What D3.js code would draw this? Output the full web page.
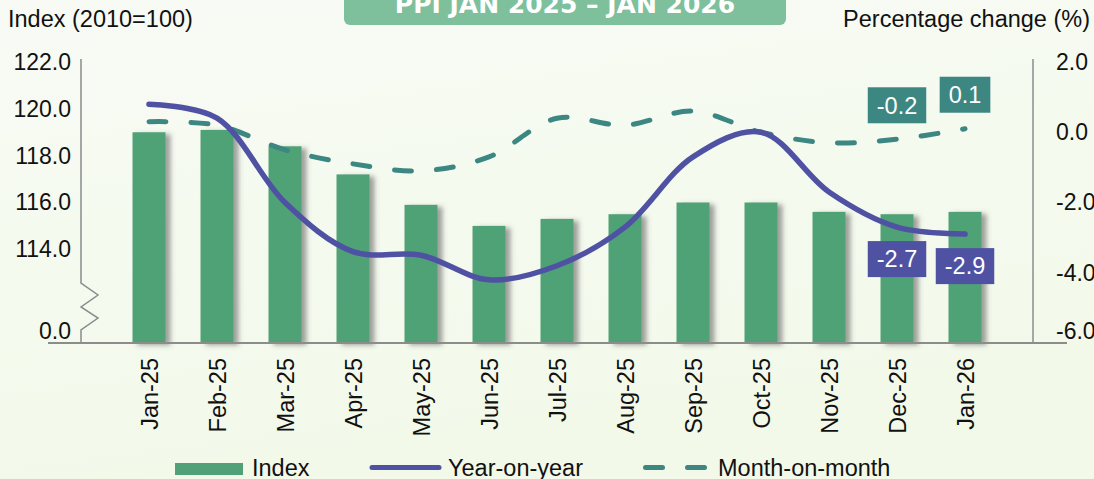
<!DOCTYPE html>
<html>
<head>
<meta charset="utf-8">
<script src="https://cdn.jsdelivr.net/npm/d3@7"></script>
<style>
  html, body { margin: 0; padding: 0; overflow: hidden; }
  svg { display: block; font-family: "Liberation Sans", Arial, sans-serif; }
</style>
</head>
<body>
<svg id="chart" width="1094" height="479"></svg>
<script>
// data
const months = ["Jan-25", "Feb-25", "Mar-25", "Apr-25", "May-25", "Jun-25", "Jul-25",
  "Aug-25", "Sep-25", "Oct-25", "Nov-25", "Dec-25", "Jan-26"];
const indexValues = [119.0, 119.1, 118.4, 117.2, 115.9, 115.0, 115.3, 115.5, 116.0, 116.0, 115.6, 115.5, 115.6];
const yoyValues = [0.8, 0.4, -2.0, -3.4, -3.5, -4.2, -3.8, -2.7, -0.7, 0.0, -1.7, -2.7, -2.9];
const momValues = [0.3, 0.2, -0.5, -0.9, -1.1, -0.7, 0.4, 0.2, 0.6, 0.0, -0.3, -0.2, 0.1];
const labelledMonths = ["Dec-25", "Jan-26"];

const indexTicks = [110, 114, 116, 118, 120, 122];
const indexTickLabels = ["0.0", "114.0", "116.0", "118.0", "120.0", "122.0"];
const pctTicks = [-6, -4, -2, 0, 2];

const title = "PPI JAN 2025 \u2013 JAN 2026";

let barColor = "#50a276";
let yoyColor = "#4f52a3";
let momColor = "#3d8783";
let axisColor = "#8c8c8c";
let fontSize = 23.5;
let tickFontSize = 23;

let svg = d3.select("#chart");
let plotLeft = 81, plotRight = 1033, plotTop = 62, plotBottom = 343;

// background
let defs = svg.append("defs");
let bg = defs.append("linearGradient").attr("id", "bg").attr("x1", 0).attr("y1", 0).attr("x2", 0.3).attr("y2", 1);
bg.append("stop").attr("offset", 0).attr("stop-color", "#f8fbf5");
bg.append("stop").attr("offset", 1).attr("stop-color", "#f2f9e9");
let shadow = defs.append("filter").attr("id", "shadow")
  .attr("x", -0.2).attr("y", -0.2).attr("width", 1.6).attr("height", 1.4);
shadow.append("feDropShadow").attr("dx", 5).attr("dy", 2).attr("stdDeviation", 2.5)
  .attr("flood-color", "#555").attr("flood-opacity", 0.55);

svg.append("rect").attr("width", 1094).attr("height", 479).attr("fill", "url(#bg)");

// scales
let x = d3.scalePoint().domain(months).range([plotLeft, plotRight]).padding(1);
let yIdx = d3.scaleLinear().domain([110, 122]).range([plotBottom, plotTop]);
let yPct = d3.scaleLinear().domain([-6, 2]).range([plotBottom, plotTop]);
let barW = x.step() * 0.485;

// bars
svg.append("g")
  .selectAll("rect")
  .data(indexValues)
  .enter().append("rect")
    .attr("x", (d, i) => x(months[i]) - barW / 2)
    .attr("y", d => yIdx(d))
    .attr("width", barW)
    .attr("height", d => yIdx(110) - yIdx(d))
    .attr("fill", barColor)
    .attr("filter", "url(#shadow)");

// x axis line
svg.append("line")
  .attr("x1", 48).attr("x2", 1067)
  .attr("y1", plotBottom).attr("y2", plotBottom)
  .attr("stroke", axisColor).attr("stroke-width", 2);

// left axis
let yAxisL = svg.append("g")
  .attr("transform", "translate(" + plotLeft + ",0)")
  .call(d3.axisLeft(yIdx).tickValues(indexTicks).tickSize(0).tickPadding(10)
    .tickFormat((d, i) => indexTickLabels[i]));
yAxisL.select(".domain").remove();
yAxisL.selectAll("text")
  .style("font-size", tickFontSize + "px").style("font-family", "Liberation Sans, Arial, sans-serif")
  .attr("fill", "#111")
  .attr("y", d => d == 110 ? -12 : 0);

// left axis line with break
let brk = [283, 295, 307, 318, 330];
let axisPath = d3.path();
axisPath.moveTo(plotLeft, plotTop - 3);
axisPath.lineTo(plotLeft, brk[0]);
axisPath.lineTo(plotLeft + 17, brk[1]);
axisPath.lineTo(plotLeft, brk[2]);
axisPath.lineTo(plotLeft + 17, brk[3]);
axisPath.lineTo(plotLeft, brk[4]);
axisPath.lineTo(plotLeft, plotBottom);
svg.append("path").attr("d", axisPath.toString())
  .attr("fill", "none").attr("stroke", axisColor).attr("stroke-width", 1.5);

// right axis (labels run off the right edge, as in the original)
let yAxisR = svg.append("g")
  .attr("transform", "translate(" + plotRight + ",0)")
  .call(d3.axisRight(yPct).tickValues(pctTicks).tickSize(0).tickPadding(23)
    .tickFormat(d => d.toFixed(1)));
yAxisR.select(".domain").remove();
yAxisR.selectAll("text")
  .style("font-size", tickFontSize + "px").style("font-family", "Liberation Sans, Arial, sans-serif")
  .attr("fill", "#111")
  .attr("y", d => d == -6 ? -12 : 0);
svg.append("line")
  .attr("x1", plotRight).attr("x2", plotRight)
  .attr("y1", plotTop - 3).attr("y2", plotBottom)
  .attr("stroke", axisColor).attr("stroke-width", 1.5);

// x axis labels
let xAxis = svg.append("g")
  .attr("transform", "translate(0," + plotBottom + ")")
  .call(d3.axisBottom(x).tickSize(0));
xAxis.select(".domain").remove();
xAxis.selectAll("text")
  .style("font-size", fontSize + "px").style("font-family", "Liberation Sans, Arial, sans-serif")
  .attr("fill", "#111")
  .attr("transform", "rotate(-90)")
  .attr("x", -15)
  .attr("y", 0)
  .attr("dy", "0.35em")
  .style("text-anchor", "end");

// lines
let line = d3.line()
  .x((d, i) => x(months[i]))
  .y(d => yPct(d))
  .curve(d3.curveCatmullRom.alpha(0.5));

svg.append("path")
  .attr("d", line(momValues))
  .attr("fill", "none")
  .attr("stroke", momColor)
  .attr("stroke-width", 5)
  .attr("stroke-linecap", "round")
  .attr("stroke-dasharray", "17,25");

svg.append("path")
  .attr("d", line(yoyValues))
  .attr("fill", "none")
  .attr("stroke", yoyColor)
  .attr("stroke-width", 5.5)
  .attr("stroke-linecap", "round");

// value labels
function addValueLabel(month, value, offset, color) {
  let cx = x(month);
  let cy = yPct(value) + offset;
  let g = svg.append("g");
  let rect = g.append("rect").attr("fill", color);
  let t = g.append("text")
    .attr("x", cx).attr("y", cy)
    .attr("dy", "0.35em")
    .attr("text-anchor", "middle")
    .style("font-size", fontSize + "px")
    .attr("fill", "#fff")
    .text(value.toFixed(1));
  let w = t.node().getComputedTextLength() + 18;
  rect.attr("x", cx - w / 2).attr("y", cy - 18).attr("width", w).attr("height", 36);
}
labelledMonths.forEach(m => {
  let i = months.indexOf(m);
  addValueLabel(m, momValues[i], -34, momColor);
  addValueLabel(m, yoyValues[i], 32, yoyColor);
});

// axis titles
svg.append("text")
  .attr("x", 8).attr("y", 27)
  .text("Index (2010=100)")
  .style("font-size", fontSize + "px")
  .attr("fill", "#111");
svg.append("text")
  .attr("x", 1090).attr("y", 27)
  .text("Percentage change (%)")
  .style("font-size", fontSize + "px")
  .attr("text-anchor", "end")
  .attr("fill", "#111");

// title box
svg.append("rect")
  .attr("x", 344).attr("y", -10)
  .attr("width", 442).attr("height", 35)
  .attr("rx", 6)
  .attr("fill", "#7ec09c");
svg.append("text")
  .attr("x", 565).attr("y", 13)
  .attr("text-anchor", "middle")
  .text(title)
  .style("font-family", "DejaVu Sans, sans-serif")
  .style("font-weight", "bold")
  .style("font-size", "25px")
  .attr("fill", "#fff");

// legend
let legend = svg.append("g");
legend.append("rect")
  .attr("x", 175).attr("y", 463).attr("width", 68).attr("height", 12)
  .attr("fill", barColor);
legend.append("text").attr("x", 252).attr("y", 476).text("Index")
  .style("font-size", fontSize + "px").attr("fill", "#111");
legend.append("line")
  .attr("x1", 372).attr("x2", 439).attr("y1", 467.5).attr("y2", 467.5)
  .attr("stroke", yoyColor).attr("stroke-width", 5).attr("stroke-linecap", "round");
legend.append("text").attr("x", 448).attr("y", 476).text("Year-on-year")
  .style("font-size", fontSize + "px").attr("fill", "#111");
legend.append("line")
  .attr("x1", 645.5).attr("x2", 705).attr("y1", 467.5).attr("y2", 467.5)
  .attr("stroke", momColor).attr("stroke-width", 5).attr("stroke-linecap", "round")
  .attr("stroke-dasharray", "17,25");
legend.append("text").attr("x", 718).attr("y", 476).text("Month-on-month")
  .style("font-size", fontSize + "px").attr("fill", "#111");
</script>
</body>
</html>
